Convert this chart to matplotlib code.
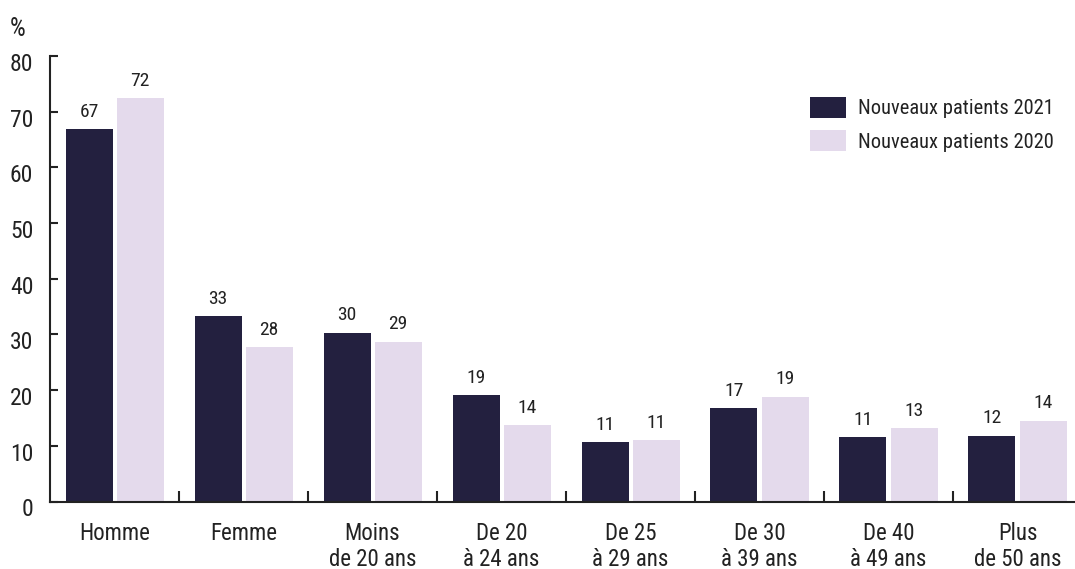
"""Nouveaux patients 2021 vs 2020 by sex and age group."""

import matplotlib

matplotlib.use("Agg")
import matplotlib.pyplot as plt
import matplotlib.transforms as mtransforms
import numpy as np
from matplotlib import font_manager

categories = ["Homme", "Femme", "Moins\nde 20 ans", "De 20\nà 24 ans", "De 25\nà 29 ans",
              "De 30\nà 39 ans", "De 40\nà 49 ans", "Plus\nde 50 ans"]
# bar heights as drawn, and the labels printed above them
values_2021 = [66.9, 33.3, 30.3, 19.1, 10.7, 16.8, 11.6, 11.8]
values_2020 = [72.4, 27.7, 28.7, 13.7, 11.0, 18.8, 13.2, 14.5]
labels_2021 = ["67", "33", "30", "19", "11", "17", "11", "12"]
labels_2020 = ["72", "28", "29", "14", "11", "19", "13", "14"]
series_names = ["Nouveaux patients 2021", "Nouveaux patients 2020"]
yticks = [0, 10, 20, 30, 40, 50, 60, 70, 80]

DARK = "#23203f"
LIGHT = "#e4daec"
INK = "#222222"

# pick a condensed face if one is installed, otherwise shrink a regular one
installed = {f.name for f in font_manager.fontManager.ttflist}
family = None
for cand in ["Roboto Condensed", "Liberation Sans Narrow", "DejaVu Sans Condensed",
             "Open Sans Condensed", "Noto Sans Condensed"]:
    if cand in installed:
        family = cand
        fs_tick, fs_cat, fs_val, fs_leg = 17, 16.5, 14, 14.8
        leg_x = 810
        break
if family is None:
    family = "Roboto" if "Roboto" in installed else "DejaVu Sans"
    fs_tick, fs_cat, fs_val, fs_leg = 14.5, 15, 13, 11.8
    leg_x = 808
plt.rcParams["font.family"] = [family, "DejaVu Sans"]

W, H = 1075, 569
fig = plt.figure(figsize=(W / 100, H / 100), dpi=100)
ax = fig.add_axes([50 / W, (H - 501.5) / H, 1032 / W, 445.5 / H])

x = np.arange(len(categories))
off = 25.5 / 129
bw = 47 / 129
b1 = ax.bar(x - off, values_2021, bw, color=DARK, label=series_names[0], zorder=1)
b2 = ax.bar(x + off, values_2020, bw, color=LIGHT, label=series_names[1], zorder=1)

for bars, labs in ((b1, labels_2021), (b2, labels_2020)):
    for rect, lab in zip(bars, labs):
        ax.annotate(lab, (rect.get_x() + rect.get_width() / 2, rect.get_height()),
                    xytext=(0, 6), textcoords="offset points", ha="center", va="bottom",
                    fontsize=fs_val, color=INK)

ax.set_xlim(-0.5, 7.5)
ax.set_ylim(0, 80)
ax.set_yticks(yticks)
ax.set_xticks(x[:-1] + 0.5)
ax.set_xticklabels([])
ax.set_xticks(x, categories, minor=True)
ax.tick_params(axis="x", which="major", direction="in", length=8, width=1.5, color=INK)
ax.tick_params(axis="x", which="minor", length=0, pad=15, labelsize=fs_cat, labelcolor=INK)
ax.tick_params(axis="y", direction="in", length=6, width=1.5, color=INK, pad=12,
               labelsize=fs_tick, labelcolor=INK)
for lab in ax.get_xticklabels(minor=True):
    lab.set_linespacing(1.15)
shift = mtransforms.ScaledTranslation(0, -6 / 100, fig.dpi_scale_trans)
for lab in ax.get_yticklabels():
    lab.set_transform(lab.get_transform() + shift)

for side in ("top", "right"):
    ax.spines[side].set_visible(False)
for side in ("left", "bottom"):
    ax.spines[side].set_linewidth(1.5)
    ax.spines[side].set_color(INK)
    ax.spines[side].set_zorder(3)

fig.text(18 / W, 1 - 29 / H, "%", ha="center", va="center", fontsize=fs_tick + 1, color=INK)

px = fs_leg * 100 / 72
fig.legend(handles=[b1, b2], loc="upper left", bbox_to_anchor=(leg_x / W, 1 - 97 / H),
           bbox_transform=fig.transFigure, frameon=False, fontsize=fs_leg,
           handlelength=36 / px, handleheight=24 / px,
           handletextpad=12 / px, labelspacing=12 / px, borderpad=0, borderaxespad=0,
           labelcolor=INK)

fig.savefig("out.png", dpi=100)
